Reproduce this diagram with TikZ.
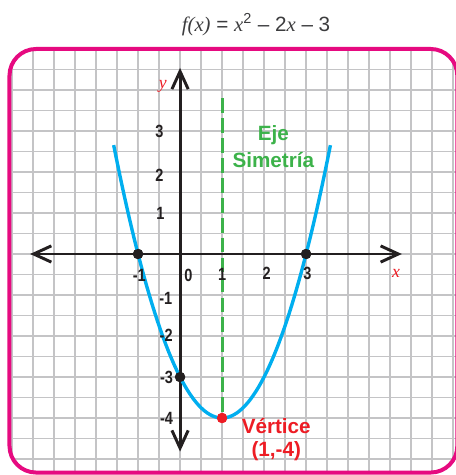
\documentclass[tikz,border=0pt]{standalone}
\usepackage{fontspec}
\setmainfont{Liberation Sans}
\newfontfamily\titleserif{Liberation Serif}
\newfontfamily\narrowsans[FakeStretch=0.82]{Liberation Sans}
\usepackage{tikz}
\usetikzlibrary{arrows.meta, positioning}
\definecolor{mydark}{RGB}{35,31,32}
\definecolor{mygrid}{RGB}{196,196,198}
\definecolor{mypink}{RGB}{230,10,128}
\definecolor{mycyan}{RGB}{0,174,239}
\definecolor{mygreen}{RGB}{60,178,74}
\definecolor{myred}{RGB}{237,28,36}
\definecolor{mytitle}{RGB}{60,60,62}
\tikzset{
  gridline/.style={draw=mygrid, line width=1.1pt},
  framebox/.style={draw=mypink, line width=2.7pt, rounded corners=18pt},
  axisline/.style={draw=mydark, line width=2pt,
    {Straight Barb[length=12pt,width=11pt]}-{Straight Barb[length=12pt,width=11pt]}},
  curveline/.style={draw=mycyan, line width=2.3pt},
  symline/.style={draw=mygreen, line width=2pt, dash pattern=on 10pt off 3.5pt},
  blackdot/.style={circle, fill=mydark, minimum size=7pt, inner sep=0pt},
  reddot/.style={circle, fill=myred, minimum size=7pt, inner sep=0pt},
  ticklabel/.style={font=\narrowsans\bfseries\fontsize{12}{12}\selectfont,
    text=mydark, inner sep=0pt},
  axislabel/.style={font=\titleserif\itshape\fontsize{12}{12}\selectfont,
    text=myred, inner sep=0pt},
  greenlabel/.style={font=\bfseries\fontsize{14}{18}\selectfont,
    text=mygreen, align=center, inner sep=0pt},
  redlabel/.style={font=\bfseries\fontsize{14}{16}\selectfont,
    text=myred, align=center, inner sep=0pt}
}

\begin{document}
\begin{tikzpicture}[x=1cm, y=0.976cm]
  \useasboundingbox (-4.286,-5.39) rectangle (6.548,6.195);

  % Title
  \node[font=\fontsize{14}{14}\selectfont, text=mytitle] (title) at (1.81,5.59)
    {{\titleserif\itshape f(x)} = {\titleserif\itshape x}\textsuperscript{2} -- 2{\titleserif\itshape x} -- 3};

  % Grid inside the frame
  \begin{scope}
    \clip[rounded corners=18pt] (-4.06,-5.33) rectangle (6.6,5.0);
    \draw[gridline] (-4.5,-5.5) grid[xstep=0.5, ystep=0.5] (7,5.5);
  \end{scope}
  \draw[framebox] (-4.06,-5.33) rectangle (6.6,5.0);

  % Axis ends
  \coordinate (xleft) at (-3.57,0);
  \coordinate (xright) at (5.28,0);
  \coordinate (ytop) at (0,4.54);
  \coordinate (ybottom) at (0,-4.82);
  \coordinate (symtop) at (1,3.8);

  % Points
  \node[blackdot] (rootl) at (-1,0) {};
  \node[blackdot] (rootr) at (3,0) {};
  \node[blackdot] (yint) at (0,-3) {};
  \node[reddot] (vertex) at (1,-4) {};

  % Axis of symmetry
  \draw[symline] (symtop) -- (vertex.center);

  % Axes
  \draw[axisline] (xleft) -- (xright);
  \draw[axisline] (ybottom) -- (ytop);

  % Parabola
  \draw[curveline] plot[domain=-1.58:3.58, samples=80] (\x, {(\x)*(\x)-2*(\x)-3});

  % Dots on top
  \node[blackdot] at (rootl) {};
  \node[blackdot] at (rootr) {};
  \node[blackdot] at (yint) {};
  \node[reddot] at (vertex) {};

  % Tick labels
  \node[ticklabel] (lx1) at (-0.97,-0.51) {-1};
  \node[ticklabel] (lx0) at (0.2,-0.51) {0};
  \node[ticklabel] (lxa) at (1,-0.5) {1};
  \node[ticklabel] (lxb) at (2.06,-0.47) {2};
  \node[ticklabel] (lxc) at (3.03,-0.47) {3};
  \node[ticklabel] (lya) at (-0.47,0.99) {1};
  \node[ticklabel] (lyb) at (-0.49,1.93) {2};
  \node[ticklabel] (lyc) at (-0.49,2.98) {3};
  \node[ticklabel, anchor=east] (lym1) at (-0.18,-1.08) {-1};
  \node[ticklabel, anchor=east] (lym2) at (-0.17,-1.98) {-2};
  \node[ticklabel, anchor=east] (lym3) at (-0.16,-3.0) {-3};
  \node[ticklabel, anchor=east] (lym4) at (-0.16,-4.0) {-4};

  % Axis names
  \node[axislabel] (xname) at (5.14,-0.47) {x};
  \node[axislabel] (yname) at (-0.41,4.08) {y};

  % Annotations
  \node[greenlabel] (symlabel) at (2.22,2.62) {Eje\\Simetría};
  \node[redlabel] (vertlabel) at (2.29,-4.53) {Vértice\\(1,-4)};
\end{tikzpicture}
\end{document}
